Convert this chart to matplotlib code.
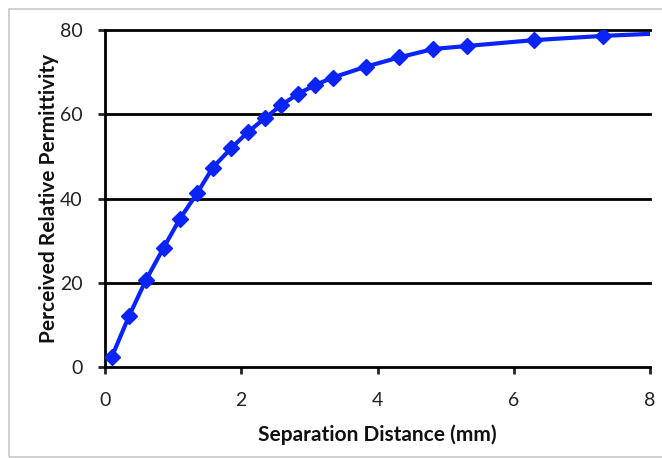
import matplotlib
matplotlib.use("Agg")
import matplotlib.pyplot as plt
from matplotlib.patches import Rectangle

separation_mm = [0.1, 0.35, 0.6, 0.86, 1.1, 1.35, 1.58, 1.85, 2.1, 2.35, 2.59, 2.84, 3.08, 3.34,
                 3.83, 4.32, 4.82, 5.31, 6.3, 7.31, 8.3]
permittivity = [2.4, 12.0, 20.6, 28.3, 35.2, 41.2, 47.3, 51.9, 55.8, 59.1, 62.2, 64.9, 66.9, 68.7,
                71.3, 73.5, 75.5, 76.2, 77.6, 78.6, 79.3]
x_ticks = [0, 2, 4, 6, 8]
y_ticks = [0, 20, 40, 60, 80]

plt.rcParams['font.family'] = ['Lato', 'DejaVu Sans']

fig = plt.figure(figsize=(6.62, 4.58), dpi=100)
ax = fig.add_axes([105/662, 1-367/458, 545/662, 337/458])

fig.patches.append(Rectangle((9/662, 1/458), 700/662, 448/458, transform=fig.transFigure,
                             fill=False, edgecolor='#c8c8c8', linewidth=1.2, zorder=0))

ax.set_xlim(0, 8)
ax.set_ylim(0, 80)
for y in y_ticks[1:]:
    ax.axhline(y, color='black', linewidth=2, zorder=1, clip_on=False)

ax.plot(separation_mm, permittivity, color='#0a24f5', linewidth=3, marker='D',
        markersize=8.5, markeredgecolor='#0a24f5', zorder=3)

for s in ['top', 'right']:
    ax.spines[s].set_visible(False)
for s in ['left', 'bottom']:
    ax.spines[s].set_linewidth(2)
    ax.spines[s].set_color('black')

ax.set_xticks(x_ticks)
ax.set_yticks(y_ticks)
ax.tick_params(axis='both', direction='out', length=5, width=2, labelsize=14, colors='#222222')
ax.tick_params(axis='x', pad=13)
ax.tick_params(axis='y', pad=11)
ax.set_xlabel('Separation Distance (mm)', fontsize=15, fontweight='bold', labelpad=11, color='#111111')
ax.set_ylabel('Perceived Relative Permittivity', fontsize=15, fontweight='bold', labelpad=1, color='#111111')

fig.savefig('out.png', dpi=100)
